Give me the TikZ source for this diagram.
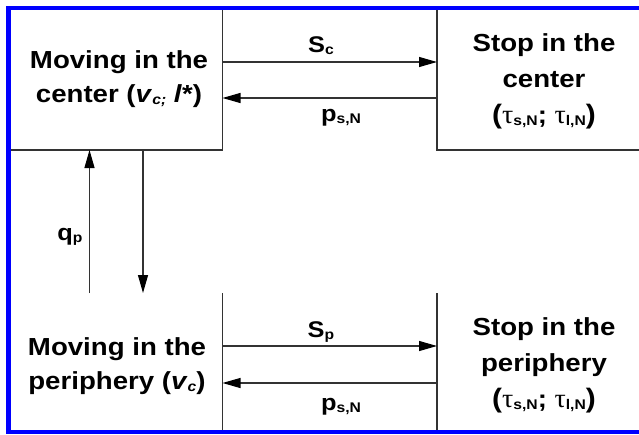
\documentclass[tikz,border=0pt]{standalone}
\usepackage{fontspec}
\setmainfont[FakeStretch=1.12]{Liberation Sans}
\newfontfamily\grk[FakeStretch=1.05]{Liberation Serif}
\usetikzlibrary{arrows.meta,calc}
\newcommand{\mysub}[1]{\raisebox{-1.5pt}{\fontsize{10.5}{10.5}\selectfont #1}}
\newcommand{\mytau}{{\grk\mdseries\fontsize{20}{20}\selectfont τ}}
\newcommand{\tauline}{{\fontsize{20}{20}\selectfont(}\mytau\mysub{s,N}; \mytau\mysub{l,N}{\fontsize{20}{20}\selectfont)}}
\tikzset{
  box/.style={inner sep=0pt, outer sep=0pt},
  txt/.style={font=\fontsize{18.5}{25}\selectfont\bfseries, align=center, inner sep=0pt},
  txtb/.style={font=\fontsize{18.5}{27}\selectfont\bfseries, align=center, inner sep=0pt},
  lbl/.style={font=\fontsize{17}{20}\selectfont\bfseries, inner sep=0pt, anchor=base},
  edgeline/.style={draw=black!80, line width=0.8pt},
  arr/.style={edgeline, -{Triangle[length=13.5pt,width=7.5pt,color=black,fill=black]}},
  frame/.style={draw={rgb,255:red,0;green,0;blue,255}, line width=3.4pt}
}
\begin{document}
\begin{tikzpicture}[x=0.75pt, y=-0.75pt]
\useasboundingbox (0,0) rectangle (639,435);
\clip (0,0) rectangle (639,435);
\fill[white] (0,0) rectangle (639,435);
% boxes
\node[box, minimum width=160.5pt, minimum height=106.5pt] (mc) at (115.5,79) {};
\node[box, minimum width=159pt, minimum height=106.5pt] (sc) at (543,79) {};
\node[box, minimum width=160.5pt, minimum height=104.25pt] (mp) at (115.5,362.5) {};
\node[box, minimum width=159pt, minimum height=104.25pt] (sp) at (543,362.5) {};
\draw[edgeline] (mc.north east) -- (mc.south east) -- (mc.south west);
\draw[edgeline] (sc.north west) -- (sc.south west) -- (sc.south east);
\draw[edgeline] (mp.north east) -- (mp.south east);
\draw[edgeline] (sp.north west) -- (sp.south west);
% texts
\node[txt] (tmc) at (119,79) {Moving in the\\center (\textit{v}\mysub{\textit{c;}} \textit{l}*)};
\node[txtb] (tsc) at (544,81) {Stop in the\\center\\\tauline};
\node[txt] (tmp) at (117,366) {Moving in the\\periphery (\textit{v}\mysub{\textit{c}})};
\node[txtb] (tsp) at (544,365) {Stop in the\\periphery\\\tauline};
% arrows
\draw[arr] ($(mc.east)+(0,-17)$) -- ($(sc.west)+(0,-17)$);
\draw[arr] ($(sc.west)+(0,19)$) -- ($(mc.east)+(0,19)$);
\draw[arr] ($(mp.east)+(0,-16.5)$) -- ($(sp.west)+(0,-16.5)$);
\draw[arr] ($(sp.west)+(0,20.5)$) -- ($(mp.east)+(0,20.5)$);
\draw[arr] ($(mp.north)+(-26,0)$) -- ($(mc.south)+(-26,0)$);
\draw[arr] ($(mc.south)+(27.5,0)$) -- ($(mp.north)+(27.5,0)$);
% labels
\node[lbl] (lsc) at (321,53) {S\mysub{c}};
\node[lbl] (lpc) at (341,122) {p\mysub{s,N}};
\node[lbl] (lsp) at (321,337) {S\mysub{p}};
\node[lbl] (lpp) at (341,410) {p\mysub{s,N}};
\node[lbl] (lqp) at (70,240) {q\mysub{p}};
% frame
\draw[frame] (8.5,8) rectangle (700,432);
\end{tikzpicture}
\end{document}
